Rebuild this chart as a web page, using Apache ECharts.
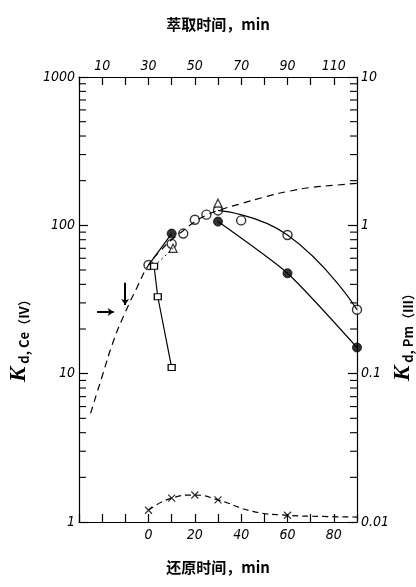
<!DOCTYPE html>
<html>
<head>
<meta charset="utf-8">
<script src="https://cdn.jsdelivr.net/npm/echarts@6/dist/echarts.min.js"></script>
<style>
html, body { margin: 0; padding: 0; background: #fff; }
#chart { width: 416px; height: 587px; }
</style>
</head>
<body>
<div id="chart"></div>
<script>
// reduction time (bottom axis, min) vs Kd ; left axis Ce(IV), right axis Pm(III)
var dashedCurve = [[-25, 5.4], [-20, 9.6], [-15, 16.8], [-10, 26], [-5, 38], [0, 54], [5, 67], [10, 80],
    [15, 92], [20, 106], [25, 117], [30, 126], [40, 140], [50, 155], [60, 169], [70, 180], [80, 186], [90, 192]];
var openCircles = [[0, 54], [10, 75], [15, 88], [20, 109], [25, 118], [30, 126], [40, 108], [60, 86], [90, 27]];
var upperCurve = [[30, 126], [60, 86], [90, 27]];
var filledCircles = [[10, 88], [30, 106], [60, 47.5], [90, 15]];
var risingLine = [[0, 54], [10, 88]];
var fallingLine = [[30, 106], [60, 47.5], [90, 15]];
var squares = [[2.4, 53], [4, 33], [10, 11]];
var dottedLine = [[2.4, 53], [10.6, 70]];
var triangles = [[10.6, 70], [30, 141]];
var crosses = [[0, 0.012], [10, 0.0145], [20, 0.0152], [30, 0.0141], [60, 0.0111]];
var crossCurve = [[0, 0.012], [10, 0.0145], [20, 0.0152], [30, 0.0141], [45, 0.0118], [60, 0.0111], [75, 0.0109], [90, 0.0108]];
var bottomLabels = [0, 20, 40, 60, 80];
var topLabels = [10, 30, 50, 70, 90, 110];
var leftMinorTicks = [2, 3, 4, 5, 6, 7, 8, 9, 20, 30, 40, 50, 60, 70, 80, 90, 200, 300, 400, 500, 600, 700, 800, 900];
var rightMinorTicks = [0.02, 0.03, 0.04, 0.05, 0.06, 0.07, 0.08, 0.09, 0.2, 0.3, 0.4, 0.5, 0.6, 0.7, 0.8, 0.9,
    2, 3, 4, 5, 6, 7, 8, 9];

var tickFont = {
    color: '#000', fontSize: 14, fontStyle: 'italic',
    fontFamily: '"Liberation Sans Narrow", "DejaVu Sans Condensed", sans-serif'
};
var lineBlack = { color: '#000', width: 1.2 };
var nameFont = { color: '#000', fontSize: 15, fontWeight: 'bold', fontFamily: '"Noto Sans CJK SC", serif' };
var kRich = {
    k: { fontSize: 23, fontWeight: 'bold', fontStyle: 'italic', fontFamily: '"Liberation Serif", serif', fill: '#000' },
    s: { fontSize: 13, fontWeight: 'bold', fontFamily: '"Noto Sans CJK SC", serif', fill: '#000', padding: [10, 0, 0, 3] }
};

// short inward tick marks on a log y axis, drawn at the grid edge
function minorTickRender(side) {
    return function (params, api) {
        var cs = params.coordSys;
        var y = api.coord([0, api.value(0)])[1];
        var x = side === 'left' ? cs.x : cs.x + cs.width;
        var len = side === 'left' ? 7 : -7;
        return {
            type: 'line',
            shape: { x1: x, y1: y, x2: x + len, y2: y },
            style: { stroke: '#000', lineWidth: 1.1 }
        };
    };
}

var chart = echarts.init(document.getElementById('chart'));
var option = {
    animation: false,
    grid: { left: 79, right: 59, top: 77, bottom: 65 },
    xAxis: [
        {
            type: 'value', position: 'bottom', min: -30, max: 90, interval: 10,
            name: '还原时间，min', nameLocation: 'middle', nameGap: 38,
            nameTextStyle: nameFont,
            axisLine: { onZero: false, lineStyle: lineBlack },
            axisTick: { inside: true, length: 8, lineStyle: lineBlack },
            axisLabel: Object.assign({}, tickFont, {
                margin: 6,
                formatter: function (v) { return bottomLabels.indexOf(v) >= 0 ? String(v) : ''; }
            }),
            splitLine: { show: false }
        },
        {
            type: 'value', position: 'top', min: 0, max: 120, interval: 10,
            name: '萃取时间，min', nameLocation: 'middle', nameGap: 45,
            nameTextStyle: nameFont,
            axisLine: { onZero: false, lineStyle: lineBlack },
            axisTick: { inside: true, length: 8, lineStyle: lineBlack },
            axisLabel: Object.assign({}, tickFont, {
                margin: 4,
                formatter: function (v) { return topLabels.indexOf(v) >= 0 ? String(v) : ''; }
            }),
            splitLine: { show: false }
        }
    ],
    yAxis: [
        {
            type: 'log', logBase: 10, min: 1, max: 1000, position: 'left',
            axisLine: { onZero: false, lineStyle: lineBlack },
            axisTick: { inside: true, length: 9, lineStyle: lineBlack },
            axisLabel: Object.assign({}, tickFont, {
                margin: 4, formatter: function (v) { return String(v); }
            }),
            splitLine: { show: false }
        },
        {
            type: 'log', logBase: 10, min: 0.01, max: 10, position: 'right',
            axisLine: { onZero: false, lineStyle: lineBlack },
            axisTick: { inside: true, length: 9, lineStyle: lineBlack },
            axisLabel: Object.assign({}, tickFont, {
                margin: 4, formatter: function (v) { return String(v); }
            }),
            splitLine: { show: false }
        }
    ],
    graphic: [
        {
            type: 'text', left: 8, top: 293, rotation: Math.PI / 2,
            style: { text: '{k|K}{s|d, Ce（Ⅳ）}', rich: kRich }
        },
        {
            type: 'text', left: 392, top: 287, rotation: Math.PI / 2,
            style: { text: '{k|K}{s|d, Pm（Ⅲ）}', rich: kRich }
        }
    ],
    series: [
        {
            type: 'custom', yAxisIndex: 0, data: leftMinorTicks.map(function (v) { return [v]; }),
            encode: { y: 0 }, renderItem: minorTickRender('left'), silent: true, clip: false
        },
        {
            type: 'custom', yAxisIndex: 1, data: rightMinorTicks.map(function (v) { return [v]; }),
            encode: { y: 0 }, renderItem: minorTickRender('right'), silent: true, clip: false
        },
        {
            type: 'line', data: dashedCurve, smooth: true, showSymbol: false,
            lineStyle: { color: '#000', width: 1.2, type: [7, 5] },
            markLine: {
                symbol: ['none', 'arrow'], symbolSize: 6, silent: true, label: { show: false },
                lineStyle: { color: '#000', width: 2, type: 'solid' },
                data: [
                    [{ coord: [-22.2, 26] }, { coord: [-15, 26] }],
                    [{ coord: [-10.1, 41] }, { coord: [-10.1, 29] }]
                ]
            }
        },
        { type: 'line', data: upperCurve, smooth: true, showSymbol: false, lineStyle: lineBlack },
        { type: 'line', data: risingLine, showSymbol: false, lineStyle: lineBlack },
        { type: 'line', data: fallingLine, smooth: 0.2, showSymbol: false, lineStyle: lineBlack },
        { type: 'line', data: squares, symbol: 'rect', symbolSize: [7, 6], lineStyle: lineBlack,
          itemStyle: { color: '#fff', borderColor: '#000', borderWidth: 1.2 } },
        { type: 'line', data: dottedLine, showSymbol: false, lineStyle: { color: '#000', width: 1, type: [2, 3] } },
        { type: 'scatter', data: openCircles, symbol: 'circle', symbolSize: 9,
          itemStyle: { color: '#fff', borderColor: '#000', borderWidth: 1.4 } },
        { type: 'scatter', data: filledCircles, symbol: 'circle', symbolSize: 9,
          itemStyle: { color: '#000', borderColor: '#000' } },
        { type: 'scatter', data: triangles, symbol: 'triangle', symbolSize: 8,
          itemStyle: { color: '#fff', borderColor: '#000', borderWidth: 1.2 } },
        { type: 'line', data: crossCurve, yAxisIndex: 1, smooth: true, showSymbol: false,
          lineStyle: { color: '#000', width: 1.2, type: [6, 4] } },
        { type: 'scatter', data: crosses, yAxisIndex: 1, symbol: 'path://M0,0L10,10M10,0L0,10', symbolSize: 7,
          itemStyle: { color: 'none', borderColor: '#000', borderWidth: 1.2 } }
    ]
};
chart.setOption(option);
</script>
</body>
</html>
